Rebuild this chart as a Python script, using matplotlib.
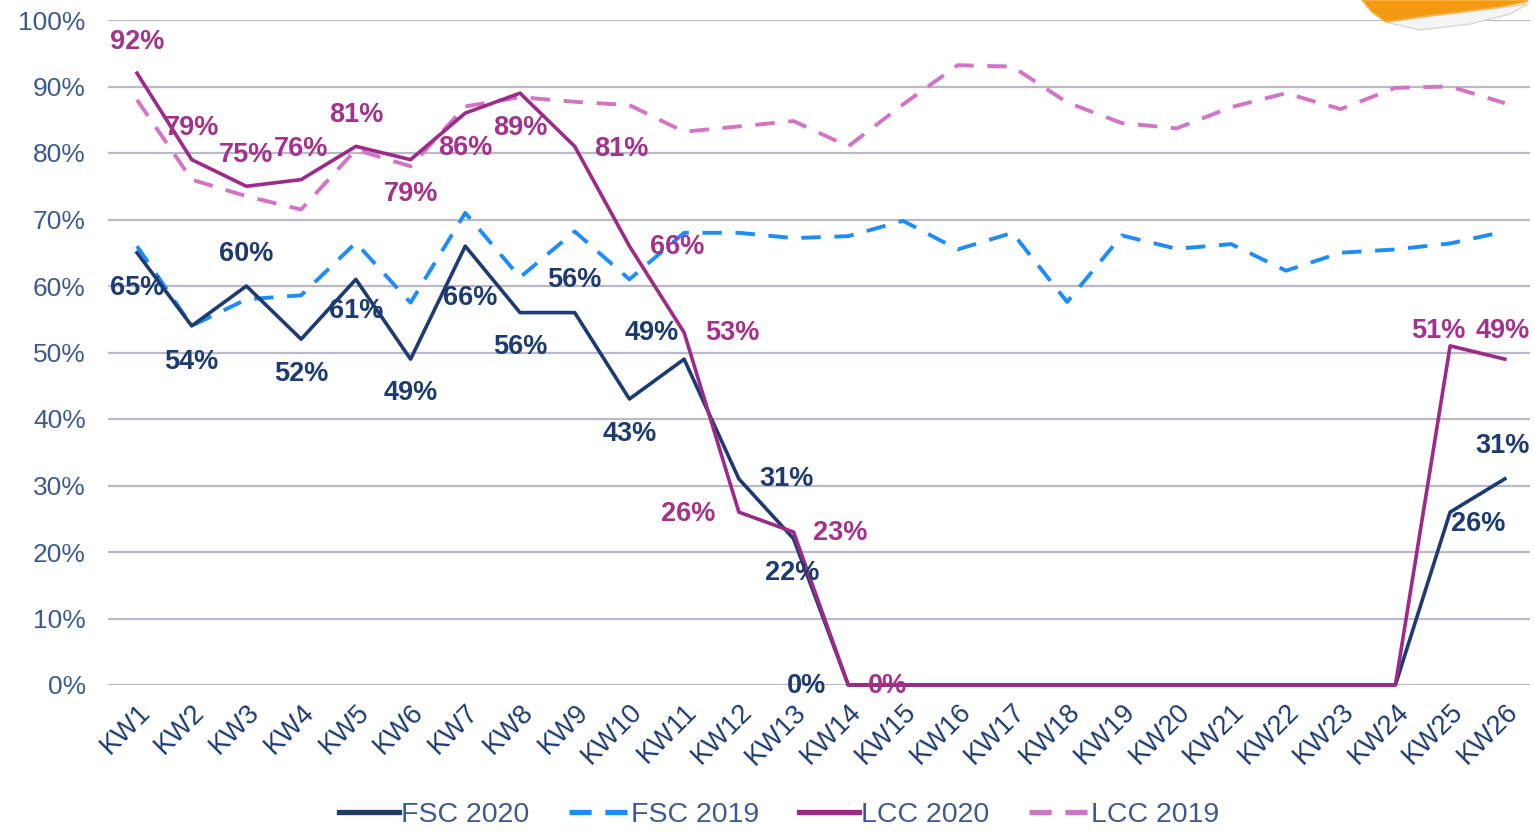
import matplotlib
matplotlib.use("Agg")
import matplotlib.pyplot as plt
from matplotlib.ticker import FuncFormatter
from matplotlib.lines import Line2D
from matplotlib.patches import Polygon

weeks = [f"KW{i}" for i in range(1, 27)]

fsc_2020 = [65, 54, 60, 52, 61, 49, 66, 56, 56, 43, 49, 31, 22, 0, 0, 0, 0, 0, 0, 0, 0, 0, 0, 0, 26, 31]
fsc_2019 = [66, 54, 58, 58.6, 66.5, 57.5, 71, 61.3, 68.2, 61, 68, 68, 67.2, 67.5, 69.8, 65.5, 68, 57.6,
            67.6, 65.6, 66.3, 62.3, 65, 65.5, 66.4, 68.2]
lcc_2020 = [92, 79, 75, 76, 81, 79, 86, 89, 81, 66, 53, 26, 23, 0, 0, 0, 0, 0, 0, 0, 0, 0, 0, 0, 51, 49]
lcc_2019 = [88, 76, 73.5, 71.5, 80.5, 78, 87, 88.4, 87.7, 87.2, 83.2, 84, 84.8, 81, 87.3, 93.2, 93, 87.6,
            84.5, 83.7, 86.9, 89, 86.6, 89.8, 90, 87.5]

labelled = list(range(0, 14)) + [24, 25]

# pixel offsets (dx, dy) for label placement (dy positive = up)
fsc_off = {0: (0, -35), 1: (0, -36), 2: (0, 32), 3: (0, -35), 4: (0, -32), 5: (0, -34),
           6: (5, -52), 7: (0, -34), 8: (0, 33), 9: (0, -35), 10: (-32, 26), 11: (48, 0),
           12: (-1, -34), 13: (-42, -1), 24: (28, -12), 25: (-2, 33)}
lcc_off = {0: (0, 31), 1: (0, 32), 2: (0, 31), 3: (0, 31), 4: (0, 31), 5: (0, -34),
           6: (0, -35), 7: (0, -35), 8: (47, -3), 9: (48, -1), 10: (48, 0), 11: (-51, -2),
           12: (47, -1), 13: (39, -1), 24: (-12, 15), 25: (-2, 28)}

navy = "#1d3b6f"
blue = "#1e8cff"
purple = "#9c2a88"
pink = "#d274c4"
label_purple = "#a3338a"
tick_col = "#3e5a8c"

plt.rcParams['font.family'] = ['Liberation Sans', 'DejaVu Sans']

fig = plt.figure(figsize=(15.34, 8.33), dpi=100)
ax = fig.add_axes([108 / 1534, 1 - 685 / 833, (1530 - 108) / 1534, (685 - 20) / 833])

x = list(range(len(weeks)))
ax.plot(x, fsc_2020, color=navy, lw=2.6, zorder=4, clip_on=False)
ax.plot(x, fsc_2019, color=blue, lw=2.8, dashes=(5, 3.5), zorder=3, clip_on=False)
ax.plot(x, lcc_2020, color=purple, lw=2.6, zorder=5, clip_on=False)
ax.plot(x, lcc_2019, color=pink, lw=2.8, dashes=(5, 3.5), zorder=3, clip_on=False)

ax.set_xlim(-0.53, 25.46)
ax.set_ylim(0, 100)
ax.set_yticks(range(0, 101, 10))
ax.yaxis.set_major_formatter(FuncFormatter(lambda v, p: f"{v:.0f}%"))
ax.set_xticks(x)
ax.set_xticklabels(weeks, rotation=45, ha='right', rotation_mode='anchor')
ax.tick_params(axis='both', length=0)
ax.tick_params(axis='y', colors=tick_col, pad=16, labelsize=19)
ax.tick_params(axis='x', colors=navy, pad=10, labelsize=19.5)
ax.grid(axis='y', color="#b9b9c8", lw=1.6)
ax.set_axisbelow(True)
for s in ax.spines.values():
    s.set_visible(False)

def add_labels(values, offs, color):
    for i in labelled:
        dx, dy = offs[i]
        ax.annotate(f"{values[i]:.0f}%", (i, values[i]), xytext=(dx * 0.72, dy * 0.72),
                    textcoords='offset points', ha='center', va='center', fontsize=19.5,
                    fontweight='bold', color=color, zorder=6)

add_labels(fsc_2020, fsc_off, navy)
add_labels(lcc_2020, lcc_off, label_purple)

handles = [
    Line2D([], [], color=navy, lw=3.8),
    Line2D([], [], color=blue, lw=3.8, dashes=(4.2, 2.6)),
    Line2D([], [], color=purple, lw=3.8),
    Line2D([], [], color=pink, lw=3.8, dashes=(4.2, 2.6)),
]
names = ["FSC 2020", "FSC 2019", "LCC 2020", "LCC 2019"]
leg = fig.legend(handles, names, loc='center', bbox_to_anchor=(0.508, 1 - 815 / 833), ncol=4,
                 frameon=False, fontsize=20.5, handlelength=2.1, handletextpad=0.08,
                 columnspacing=1.4)
for t in leg.get_texts():
    t.set_color(tick_col)

# decorative orange page corner at top right
def px(pts):
    return [(a / 1534, 1 - b / 833) for a, b in pts]

curl = Polygon(px([(1385, 22), (1420, 30), (1470, 24), (1510, 14), (1528, 4), (1500, 8), (1450, 14), (1400, 20)]),
               closed=True, transform=fig.transFigure, facecolor="#f4f4f4", edgecolor="#d8d8d8", lw=1)
orange = Polygon(px([(1362, 0), (1372, 12), (1386, 22), (1420, 17), (1460, 12), (1500, 7), (1526, 2), (1528, 0)]),
                 closed=True, transform=fig.transFigure, facecolor="#f39a12", edgecolor="#f7b24a", lw=1.2)
fig.patches.extend([curl, orange])

fig.savefig("out.png", dpi=100)
